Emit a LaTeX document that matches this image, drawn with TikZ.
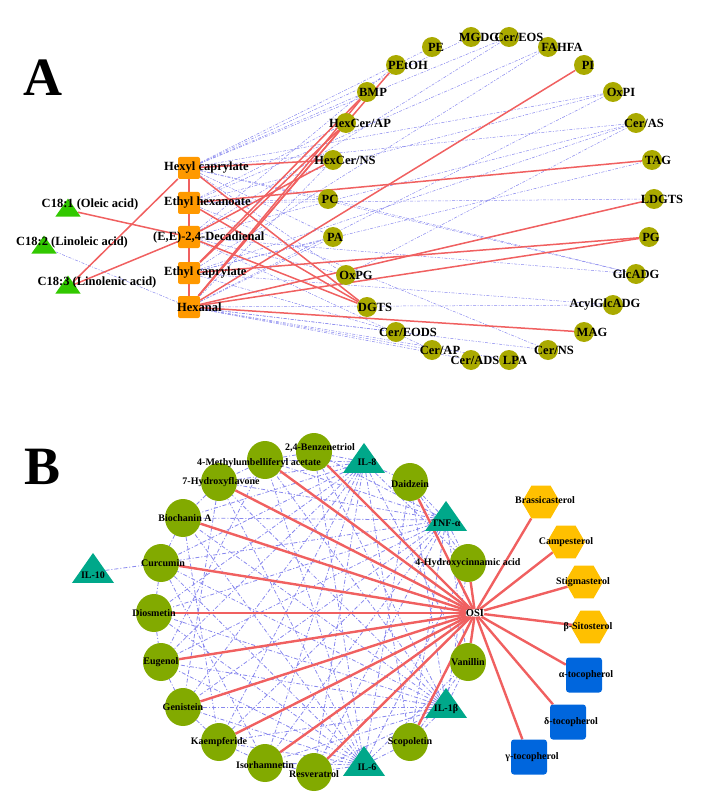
\documentclass[tikz,border=0pt]{standalone}
\usepackage{fontspec}
\setmainfont{Liberation Serif}
\usetikzlibrary{shapes.geometric}
\pgfdeclarelayer{bg}\pgfsetlayers{bg,main}
\definecolor{olv}{RGB}{170,170,0}
\definecolor{grnB}{RGB}{130,170,0}
\definecolor{org}{RGB}{255,153,0}
\definecolor{grnT}{RGB}{50,200,0}
\definecolor{teal}{RGB}{0,168,138}
\definecolor{hex}{RGB}{255,192,0}
\definecolor{blu}{RGB}{0,102,221}
\definecolor{redE}{RGB}{240,96,96}
\definecolor{bluE}{RGB}{136,136,238}
\begin{document}
\begin{tikzpicture}[x=1pt,y=-1pt,
 cA/.style={circle,fill=olv,minimum size=20pt,inner sep=0pt},
 bA/.style={rectangle,rounded corners=2pt,fill=org,minimum size=22pt,inner sep=0pt},
 tA/.style={isosceles triangle,shape border rotate=90,isosceles triangle apex angle=70,fill=grnT,minimum width=22pt,minimum height=18pt,inner sep=0pt},
 lA/.style={font=\bfseries\fontsize{12.5}{12.5}\selectfont,inner sep=0pt},
 cB/.style={ellipse,fill=grnB,minimum width=36pt,minimum height=38pt,inner sep=0pt},
 tB/.style={isosceles triangle,shape border rotate=90,isosceles triangle apex angle=70,fill=teal,minimum width=36pt,minimum height=30pt,inner sep=0pt},
 hB/.style={regular polygon,regular polygon sides=6,fill=hex,minimum size=38pt,inner sep=0pt},
 sB/.style={rectangle,rounded corners=3pt,fill=blu,minimum width=36pt,minimum height=35pt,inner sep=0pt},
 lB/.style={font=\bfseries\fontsize{10}{10}\selectfont,inner sep=0pt},
 rA/.style={draw=redE,line width=1.5pt},
 rB/.style={draw=redE,line width=2.4pt},
 dA/.style={draw=bluE,line width=0.5pt,dash pattern=on 3pt off 1.5pt on 1pt off 1.5pt},
 dB/.style={draw=bluE,line width=0.8pt,dash pattern=on 4pt off 2pt on 1pt off 2pt}]
\useasboundingbox (0,0) rectangle (702,802);
\node[font=\bfseries\fontsize{54}{54}\selectfont] (labA) at (43,78) {A};
\node[font=\bfseries\fontsize{54}{54}\selectfont] (labB) at (43,467) {B};
% Panel A nodes
\node[bA] (hexyl) at (189,168) {};
\node[bA] (ethex) at (189,203) {};
\node[bA] (deca) at (189,237) {};
\node[bA] (ethcap) at (189,273) {};
\node[bA] (hexanal) at (189,307) {};
\node[tA] (c181) at (68,210) {};
\node[tA] (c182) at (44,247) {};
\node[tA] (c183) at (68,287) {};
\foreach \n/\x/\y in {pe/432/47,mgdg/471/37,cereos/509/37,fahfa/548/47,pi/584/65,oxpi/613/92,ceras/636/123,tag/652/160,ldgts/654/199,pg/649/237,glcadg/636/274,acyl/613/305,mag/584/332,cerns/548/350,lpa/509/360,cerads/471/360,cerap/432/350,cereods/396/332,dgts/367/307,oxpg/346/275,pa/333/237,pc/328/199,hcns/333/160,hcap/346/123,bmp/367/92,petoh/396/65}
  \node[cA] (\n) at (\x,\y) {};
\begin{pgfonlayer}{bg}
\foreach \a/\b in {hexyl/pe,hexyl/mgdg,hexyl/cereos,hexyl/oxpi,hexyl/ceras,hexyl/pc,hexyl/pa,hexyl/glcadg,hexyl/oxpg,hexyl/bmp,
 ethex/fahfa,ethex/oxpi,ethex/pc,ethex/cerns,ethex/hcap,ethex/ldgts,
 deca/cereos,deca/ceras,deca/glcadg,deca/oxpg,deca/cerap,deca/petoh,
 ethcap/fahfa,ethcap/ceras,ethcap/tag,ethcap/acyl,ethcap/cereods,ethcap/pa,
 hexanal/oxpi,hexanal/ldgts,hexanal/acyl,hexanal/cerads,hexanal/lpa,hexanal/cerns,hexanal/cereods,hexanal/cerap,hexanal/pa,hexanal/hcns,
 c182/hexanal,pc/glcadg,oxpg/ceras}
  \path[dA] (\a) -- (\b);
\foreach \a/\b in {c181/deca,c183/hexyl,c183/deca,hexyl/ethex,ethex/deca,deca/ethcap,ethcap/hexanal,
 hexyl/hcns,hexyl/dgts,ethex/dgts,deca/dgts,ethex/tag,
 hexanal/petoh,hexanal/bmp,hexanal/hcap,ethcap/hcap,deca/hcns,ethcap/bmp,hexanal/pi,hexanal/ldgts,hexanal/pg,ethcap/pg,hexanal/mag}
  \path[rA] (\a) -- (\b);
\end{pgfonlayer}
\node[lA,anchor=west] (lhexyl) at ([xshift=-25pt]hexyl) {Hexyl caprylate};
\node[lA,anchor=west] (lethex) at ([xshift=-25pt]ethex) {Ethyl hexanoate};
\node[lA,anchor=west] (ldeca) at ([xshift=-36pt]deca) {(E,E)-2,4-Decadienal};
\node[lA,anchor=west] (lethcap) at ([xshift=-25pt]ethcap) {Ethyl caprylate};
\node[lA,anchor=west] (lhexanal) at ([xshift=-12pt]hexanal) {Hexanal};
\node[lA] (lc181) at (90,204) {C18:1 (Oleic acid)};
\node[lA] (lc182) at (72,242) {C18:2 (Linoleic acid)};
\node[lA] (lc183) at (97,282) {C18:3 (Linolenic acid)};
\foreach \n/\t/\s in {pe/PE/4,mgdg/MGDG/8,cereos/{Cer/EOS}/10,fahfa/FAHFA/14,pi/PI/4,oxpi/OxPI/8,ceras/{Cer/AS}/8,tag/TAG/6,ldgts/LDGTS/8,pg/PG/2,glcadg/GlcADG/0,acyl/AcylGlcADG/-8,mag/MAG/8,cerns/{Cer/NS}/6,lpa/LPA/6,cerads/{Cer/ADS}/4,cerap/{Cer/AP}/8,cereods/{Cer/EODS}/12,dgts/DGTS/8,oxpg/OxPG/10,pa/PA/2,pc/PC/2,hcns/{HexCer/NS}/12,hcap/{HexCer/AP}/14,bmp/BMP/6,petoh/PEtOH/12}
  \node[lA] (l\n) at ([xshift=\s pt]\n) {\t};
% Panel B nodes
\node[font=\bfseries\fontsize{10.5}{10.5}\selectfont,inner sep=0pt] (osi) at (475,613) {OSI};
\foreach \n/\x/\y in {benz/314/452,meth/265/460,hyfl/219/482,bioc/183/518,curc/161/563,dios/154/613,euge/161/662,geni/183/707,kaem/219/742,isor/265/763,resv/314/772,scop/410/742,vani/468/662,hycin/468/563,daid/410/482}
  \node[cB] (\n) at (\x,\y) {};
\foreach \n/\x/\y in {il8/364/462,tnf/446/520,il10/93/572,ilb/446/707,il6/364/765}
  \node[tB] (\n) at (\x,\y) {};
\foreach \n/\x/\y in {bras/541/502,camp/566/542,stig/584/582,sito/590/627}
  \node[hB] (\n) at (\x,\y) {};
\foreach \n/\x/\y in {atoc/584/675,dtoc/568/722,gtoc/529/757}
  \node[sB] (\n) at (\x,\y) {};
\begin{pgfonlayer}{bg}
\foreach \t in {il8,tnf,ilb,il6}
 \foreach \c in {benz,meth,hyfl,bioc,curc,dios,euge,geni,kaem,isor,resv,scop,vani,hycin,daid}
  \path[dB] (\t) -- (\c);
\foreach \a/\b in {il10/curc,bioc/curc,hyfl/bioc,meth/hyfl,benz/meth,curc/dios,dios/euge,euge/geni,geni/kaem,kaem/isor,isor/resv,daid/hycin,scop/vani,hyfl/geni,bioc/kaem,meth/euge,curc/isor}
  \path[dB] (\a) -- (\b);
\foreach \c in {benz,meth,hyfl,bioc,curc,dios,euge,geni,kaem,isor,resv,scop,vani,hycin,daid,bras,camp,stig,sito,atoc,dtoc,gtoc}
  \path[rB] (osi) -- (\c);
\end{pgfonlayer}
\foreach \n/\t/\s/\v in {benz/{2,4-Benzenetriol}/6/4,meth/4-Methylumbelliferyl acetate/-6/-3,hyfl/7-Hydroxyflavone/2/0,bioc/Biochanin A/2/0,curc/Curcumin/2/0,dios/Diosmetin/0/0,euge/Eugenol/0/0,geni/Genistein/0/0,kaem/Kaempferide/0/0,isor/Isorhamnetin/0/-2,resv/Resveratrol/0/-2,scop/Scopoletin/0/0,vani/Vanillin/0/0,hycin/4-Hydroxycinnamic acid/0/0,daid/Daidzein/0/-2,
  il8/IL-8/3/0,tnf/TNF-α/0/-3,il10/IL-10/0/-3,ilb/IL-1β/0/-2,il6/IL-6/3/-2,
  bras/Brassicasterol/4/2,camp/Campesterol/0/0,stig/Stigmasterol/-1/0,sito/β-Sitosterol/-2/0,atoc/α-tocopherol/2/0,dtoc/δ-tocopherol/3/0,gtoc/γ-tocopherol/3/0}
  \node[lB] (l\n) at ([xshift=\s pt,yshift=\v pt]\n) {\t};
\end{tikzpicture}
\end{document}
